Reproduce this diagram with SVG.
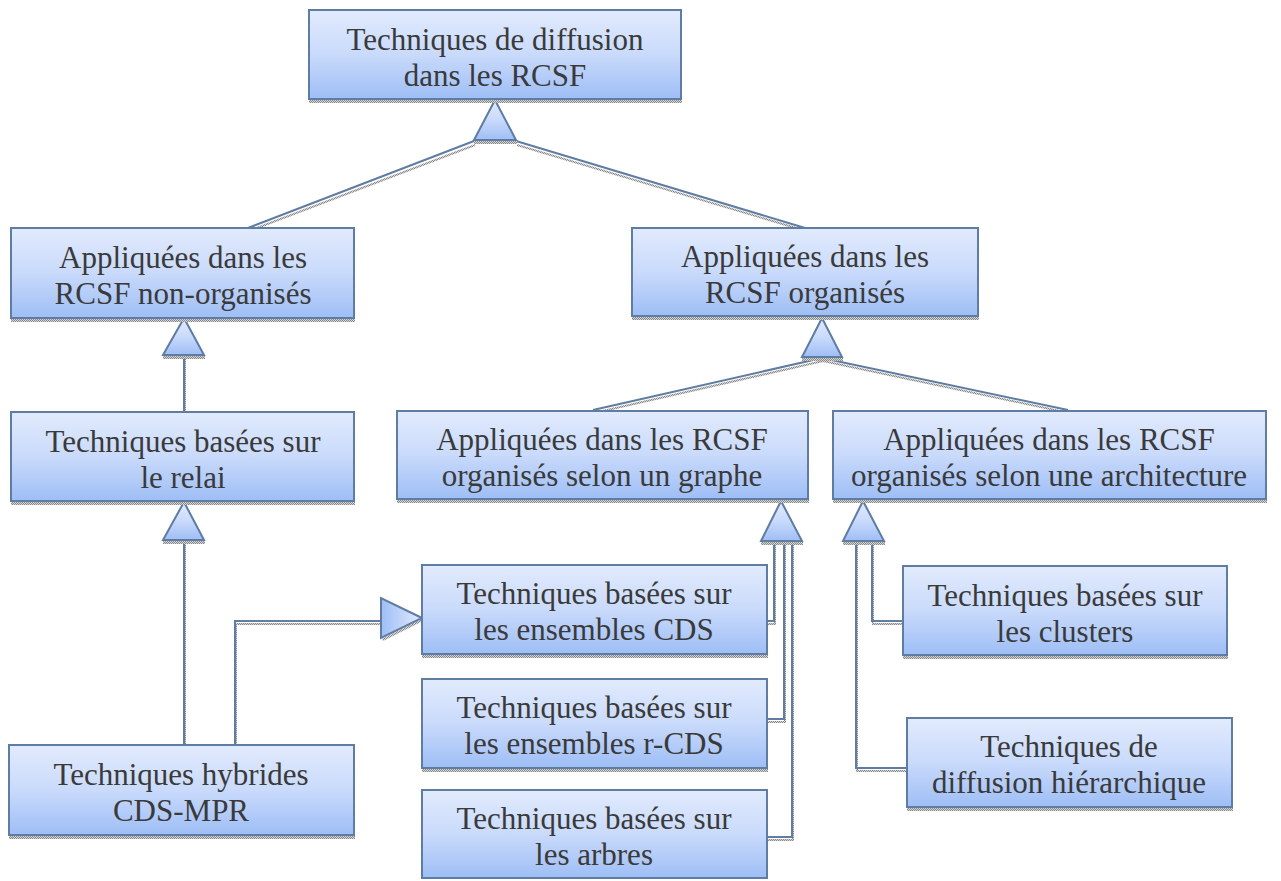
<svg xmlns="http://www.w3.org/2000/svg" width="1281" height="881" viewBox="0 0 1281 881">
<defs>
<linearGradient id="g" x1="0" y1="0" x2="0" y2="1">
<stop offset="0" stop-color="#e2ebfd"/>
<stop offset="0.5" stop-color="#c9dafb"/>
<stop offset="1" stop-color="#9ebef6"/>
</linearGradient>
<linearGradient id="gh" x1="0" y1="0" x2="1" y2="0">
<stop offset="0" stop-color="#9ebef6"/>
<stop offset="1" stop-color="#e2ebfd"/>
</linearGradient>
<pattern id="sh" width="2" height="2" patternUnits="userSpaceOnUse">
<rect width="2" height="2" fill="#d4d4d4"/>
<rect width="1" height="1" fill="#8a8a8a"/>
<rect x="1" y="1" width="1" height="1" fill="#8a8a8a"/>
</pattern>
</defs>
<style>
.box{fill:url(#g);stroke:#5f7ca2;stroke-width:2}
.shd{fill:url(#sh)}
.tri{fill:url(#g);stroke:#5f7ca2;stroke-width:2;stroke-linejoin:miter}
.trih{fill:url(#gh);stroke:#5f7ca2;stroke-width:2}
.ln{fill:none;stroke:#5f7ca2;stroke-width:2}
.lns{fill:none;stroke:url(#sh);stroke-width:2}
text{font-family:"Liberation Serif","Times New Roman",serif;font-size:31px;fill:#3a3a3a;text-anchor:middle}
</style>
<rect width="1281" height="881" fill="#ffffff"/>

<g id="connectors">
<g transform="translate(1,3)">
<path class="lns" d="M474,142 L248,228 M516,142 L805,228"/>
<path class="lns" d="M822,358 L593,410 M822,358 L1068,410"/>
<path class="lns" d="M184,356 V412 M184,541 V745"/>
<path class="lns" d="M235,745 V621 H381"/>
<path class="lns" d="M774,542 V621 H767 M784,542 V719 H767 M792,542 V837 H767"/>
<path class="lns" d="M856,542 V768 H907 M872,542 V621 H903"/>
</g>
<path class="ln" d="M474,141 L248,228 M516,141 L805,228"/>
<path class="ln" d="M822,358 L593,410 M822,358 L1068,410"/>
<path class="ln" d="M184,356 V412 M184,541 V745"/>
<path class="ln" d="M235,745 V621 H381"/>
<path class="ln" d="M774,542 V621 H767 M784,542 V719 H767 M792,542 V837 H767"/>
<path class="ln" d="M856,542 V768 H907 M872,542 V621 H903"/>
<!-- arrow triangles -->
<rect class="shd" x="474" y="141" width="43" height="3"/>
<path class="tri" d="M495,100 L516,140 L474,140 Z"/>
<rect class="shd" x="802" y="358" width="41" height="3"/>
<path class="tri" d="M822,318 L842,357 L802,357 Z"/>
<rect class="shd" x="163" y="356" width="42" height="3"/>
<path class="tri" d="M184,318 L204,355 L163,355 Z"/>
<rect class="shd" x="163" y="541" width="42" height="3"/>
<path class="tri" d="M184,502 L204,540 L163,540 Z"/>
<rect class="shd" x="761" y="542" width="42" height="3"/>
<path class="tri" d="M781,501 L802,541 L761,541 Z"/>
<rect class="shd" x="843" y="542" width="42" height="3"/>
<path class="tri" d="M863,501 L884,541 L843,541 Z"/>
<path class="shd" d="M382,639 L422,619 L423,621 L383,641 Z"/>
<path class="trih" d="M422,618 L381,598 L381,638 Z"/>
</g>

<g id="n-root">
<rect class="shd" x="309" y="100" width="373" height="3"/>
<rect class="box" x="309" y="10" width="372" height="89"/>
<text x="495" y="50">Techniques de diffusion</text>
<text x="495" y="86">dans les RCSF</text>
</g>
<g id="n-nonorg">
<rect class="shd" x="11" y="319" width="344" height="3"/>
<rect class="box" x="11" y="228" width="343" height="90"/>
<text x="183" y="268">Appliquées dans les</text>
<text x="183" y="304">RCSF non-organisés</text>
</g>
<g id="n-org">
<rect class="shd" x="632" y="317" width="347" height="3"/>
<rect class="box" x="632" y="228" width="346" height="88"/>
<text x="805" y="267">Appliquées dans les</text>
<text x="805" y="303">RCSF organisés</text>
</g>
<g id="n-relai">
<rect class="shd" x="11" y="502" width="344" height="3"/>
<rect class="box" x="11" y="412" width="343" height="89"/>
<text x="183" y="452">Techniques basées sur</text>
<text x="183" y="488">le relai</text>
</g>
<g id="n-graph">
<rect class="shd" x="397" y="500" width="412" height="3"/>
<rect class="box" x="397" y="411" width="411" height="88"/>
<text x="602" y="450">Appliquées dans les RCSF</text>
<text x="602" y="486">organisés selon un graphe</text>
</g>
<g id="n-arch">
<rect class="shd" x="833" y="500" width="434" height="3"/>
<rect class="box" x="833" y="411" width="433" height="88"/>
<text x="1049" y="450">Appliquées dans les RCSF</text>
<text x="1049" y="486">organisés selon une architecture</text>
</g>
<g id="n-hybrid">
<rect class="shd" x="9" y="836" width="346" height="3"/>
<rect class="box" x="9" y="745" width="345" height="90"/>
<text x="181" y="785">Techniques hybrides</text>
<text x="181" y="821">CDS-MPR</text>
</g>
<g id="n-cds">
<rect class="shd" x="422" y="655" width="346" height="3"/>
<rect class="box" x="422" y="565" width="345" height="89"/>
<text x="594" y="604">Techniques basées sur</text>
<text x="594" y="640">les ensembles CDS</text>
</g>
<g id="n-rcds">
<rect class="shd" x="422" y="769" width="346" height="3"/>
<rect class="box" x="422" y="679" width="345" height="89"/>
<text x="594" y="718">Techniques basées sur</text>
<text x="594" y="754">les ensembles r-CDS</text>
</g>
<g id="n-arbres">
<rect class="box" x="422" y="790" width="345" height="88"/>
<text x="594" y="829">Techniques basées sur</text>
<text x="594" y="865">les arbres</text>
</g>
<g id="n-clusters">
<rect class="shd" x="903" y="656" width="325" height="3"/>
<rect class="box" x="903" y="566" width="324" height="89"/>
<text x="1065" y="606">Techniques basées sur</text>
<text x="1065" y="642">les clusters</text>
</g>
<g id="n-hier">
<rect class="shd" x="907" y="808" width="326" height="3"/>
<rect class="box" x="907" y="718" width="325" height="89"/>
<text x="1069" y="757">Techniques de</text>
<text x="1069" y="793">diffusion hiérarchique</text>
</g>
</svg>
